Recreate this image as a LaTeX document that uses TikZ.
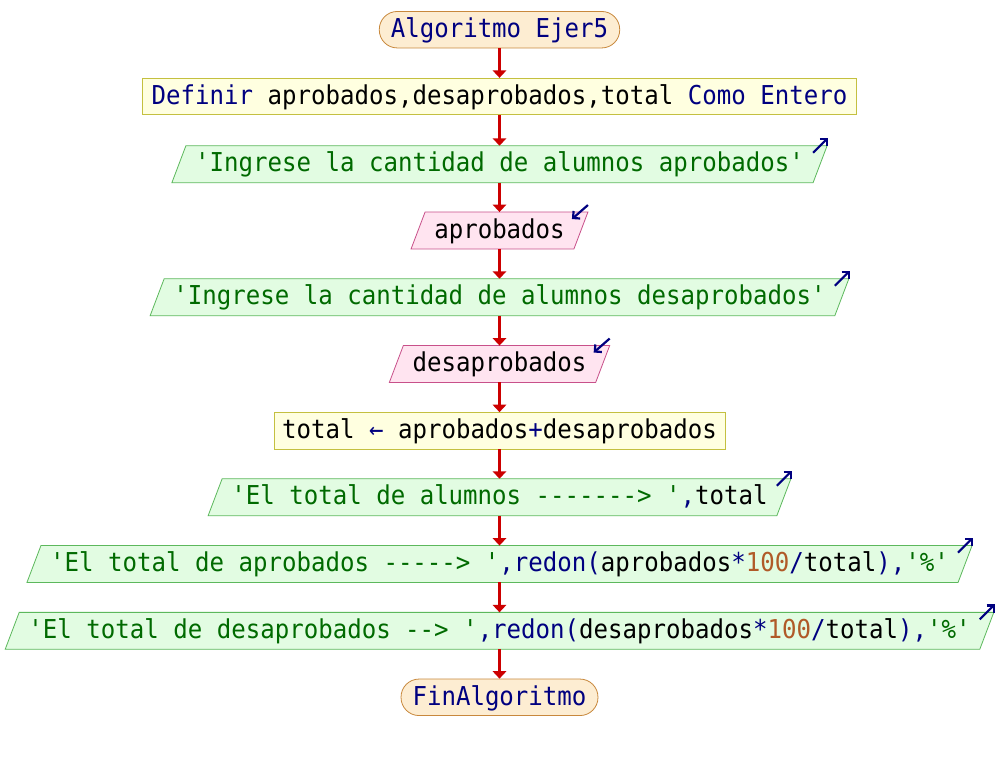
\documentclass[tikz,border=0pt]{standalone}
\usepackage{fontspec}
\usetikzlibrary{arrows.meta,backgrounds}
\newfontfamily\flowfont{DejaVu Sans Mono}[FakeStretch=0.926,Ligatures=TeXOff]

\definecolor{navy}{HTML}{000080}
\definecolor{strgreen}{HTML}{006A00}
\definecolor{numbrown}{HTML}{B05A28}
\definecolor{flowred}{HTML}{CC0000}
\definecolor{termfill}{HTML}{FDEDD2}
\definecolor{termline}{HTML}{C8883C}
\definecolor{procfill}{HTML}{FFFFE0}
\definecolor{procline}{HTML}{C4C040}
\definecolor{outfill}{HTML}{E2FCE2}
\definecolor{outline}{HTML}{5CB85C}
\definecolor{infill}{HTML}{FFE4F0}
\definecolor{inline}{HTML}{C8508A}

% syntax colouring of the pseudo-code
\newcommand\tKw[1]{\textcolor{navy}{#1}}
\newcommand\tStr[1]{\textcolor{strgreen}{#1}}
\newcommand\tNum[1]{\textcolor{numbrown}{#1}}

% slanted frame around a plain text node (input/output blocks)
\newcommand\slantbox[3]{%
  \filldraw[fill=#2,draw=#3,line width=0.8pt]
    ([xshift=7pt]#1.north west) -- ([xshift=7pt]#1.north east)
    -- ([xshift=-7pt]#1.south east) -- ([xshift=-7pt]#1.south west) -- cycle;}

\tikzset{
  blk/.style={font=\flowfont\fontsize{26}{30}\selectfont, text height=20pt,
    text depth=4.6pt, minimum height=36.5pt, inner ysep=0pt},
  term/.style={blk, draw=termline, fill=termfill, rounded corners=18pt,
    inner xsep=11.5pt, text=navy, line width=0.8pt},
  proc/.style={blk, draw=procline, fill=procfill, inner xsep=9pt, line width=0.8pt},
  outp/.style={blk, inner xsep=16pt},
  inp/.style={blk, inner xsep=16pt},
  flowarrow/.style={draw=flowred, line width=2.2pt,
    -{Triangle[length=7.5pt,width=13.5pt]}},
  icon/.style={draw=navy, line width=2.2pt,
    -{Straight Barb[length=5pt,width=10pt]}},
}

\begin{document}
\begin{tikzpicture}[x=1pt,y=-1pt]
\useasboundingbox (0,0) rectangle (999,758);

\node[term] (n0) at (499.5,29.7) {Algoritmo Ejer5};
\node[proc] (n1) at (499.5,96.5) {\tKw{Definir} aprobados,desaprobados,total \tKw{Como Entero}};
\node[outp] (n2) at (499.5,164.2) {\tStr{'Ingrese la cantidad de alumnos aprobados'}};
\node[inp] (n3) at (499.5,230.5) {aprobados};
\node[outp] (n4) at (499.5,297.2) {\tStr{'Ingrese la cantidad de alumnos desaprobados'}};
\node[inp] (n5) at (499.5,364) {desaprobados};
\node[proc,inner xsep=8pt] (n6) at (499.5,430.8) {total \tKw{←} aprobados\tKw{+}desaprobados};
\node[outp] (n7) at (499.5,497.2) {\tStr{'El total de alumnos -------> '}\tKw{,}total};
\node[outp] (n8) at (499.5,564) {\tStr{'El total de aprobados -----> '}\tKw{,redon(}aprobados\tKw{*}\tNum{100}\tKw{/}total\tKw{),}\tStr{'\%'}};
\node[outp] (n9) at (499.5,630.8) {\tStr{'El total de desaprobados --> '}\tKw{,redon(}desaprobados\tKw{*}\tNum{100}\tKw{/}total\tKw{),}\tStr{'\%'}};
\node[term] (n10) at (499.5,697.3) {FinAlgoritmo};

\begin{pgfonlayer}{background}
  \fill[white] (0,0) rectangle (999,758);
  \foreach \n in {n2,n4,n7,n8,n9} {\slantbox{\n}{outfill}{outline}}
  \foreach \n in {n3,n5} {\slantbox{\n}{infill}{inline}}
\end{pgfonlayer}

% output markers
\foreach \n in {n2,n4,n7,n8,n9}
  \draw[icon] ([shift={(-7,7)}]\n.north east) -- ([shift={(8,-8)}]\n.north east);
% input markers
\foreach \n in {n3,n5}
  \draw[icon] ([shift={(7,-7)}]\n.north east) -- ([shift={(-9,7)}]\n.north east);

% control flow
\foreach \a/\b in {n0/n1,n1/n2,n2/n3,n3/n4,n4/n5,n5/n6,n6/n7,n7/n8,n8/n9,n9/n10}
  \draw[flowarrow] (\a.south) -- (\b.north);
\end{tikzpicture}
\end{document}
